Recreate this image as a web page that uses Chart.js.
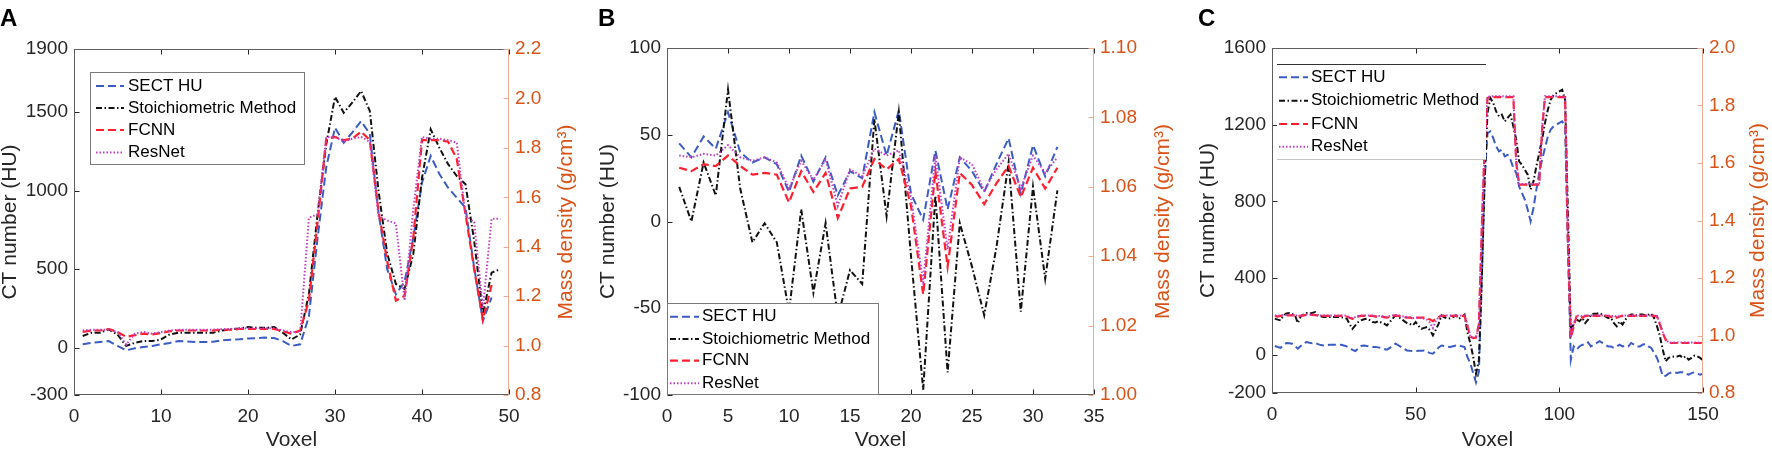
<!DOCTYPE html>
<html>
<head>
<meta charset="utf-8">
<script src="https://cdn.jsdelivr.net/npm/chart.js@4.4.0/dist/chart.umd.min.js"></script>
<style>
  html, body { margin: 0; padding: 0; background: #fff; width: 1772px; height: 450px; overflow: hidden; }
  .panel { position: absolute; top: 0; height: 450px; }
  .tag { position: absolute; top: 4px; line-height: 24px; font: bold 24px "Liberation Sans", Arial, sans-serif; color: #000; }
</style>
</head>
<body>
<div class="panel" style="left:0;width:590px"><canvas id="chartA"></canvas></div>
<div class="panel" style="left:590px;width:590px"><canvas id="chartB"></canvas></div>
<div class="panel" style="left:1180px;width:592px"><canvas id="chartC"></canvas></div>
<div class="tag" style="left:0">A</div>
<div class="tag" style="left:598px">B</div>
<div class="tag" style="left:1198px">C</div>

<script>
/* ---------- data (voxel index starts at 1) ---------- */
const seriesNames = ['SECT HU', 'Stoichiometric Method', 'FCNN', 'ResNet'];

// Panel A
const xTicksA = [0, 10, 20, 30, 40, 50];
const huTicksA = [-300, 0, 500, 1000, 1500, 1900];
const rhoTicksA = [0.8, 1.0, 1.2, 1.4, 1.6, 1.8, 2.0, 2.2];
const sectA = [22, 31, 37, 43, 12, -16, -3, 5, 12, 22, 31, 43, 41, 37, 37, 39, 48, 52, 54, 60,
  62, 65, 62, 43, 12, 22, 200, 700, 1150, 1400, 1304, 1370, 1442, 1360, 860, 500, 340, 420, 700, 1050,
  1220, 1105, 1018, 955, 890, 510, 171, 320, null];
const stoichA = [75, 96, 96, 117, 85, 12, 32, 43, 43, 53, 85, 96, 96, 96, 96, 96, 110, 117, 123, 132,
  127, 127, 132, 96, 53, 85, 342, 850, 1296, 1595, 1495, 1560, 1633, 1506, 1000, 600, 406, 374, 597, 1080,
  1389, 1272, 1168, 1092, 1040, 679, 215, 478, 500];
const fcnnA = [1.055, 1.061, 1.061, 1.067, 1.055, 1.035, 1.042, 1.048, 1.045, 1.051,
  1.058, 1.061, 1.061, 1.061, 1.061, 1.061, 1.064, 1.064, 1.067, 1.067,
  1.067, 1.067, 1.067, 1.058, 1.048, 1.061, 1.182, 1.500, 1.837, 1.844,
  1.831, 1.837, 1.866, 1.831, 1.545, 1.341, 1.182, 1.201, 1.436, 1.831,
  1.831, 1.831, 1.825, 1.755, 1.532, 1.309, 1.105, 1.245, null];
const resnetA = [1.061, 1.064, 1.064, 1.064, 1.055, 1.004, 1.048, 1.055, 1.048, 1.055,
  1.061, 1.064, 1.064, 1.064, 1.064, 1.064, 1.067, 1.067, 1.070, 1.070,
  1.070, 1.070, 1.070, 1.061, 1.055, 1.055, 1.517, 1.532, 1.844, 1.844,
  1.825, 1.837, 1.844, 1.825, 1.525, 1.506, 1.494, 1.182, 1.551, 1.844,
  1.837, 1.837, 1.831, 1.821, 1.525, 1.500, 1.150, 1.513, 1.513];

// Panel B
const xTicksB = [0, 5, 10, 15, 20, 25, 30, 35];
const huTicksB = [-100, -50, 0, 50, 100];
const rhoTicksB = [1.00, 1.02, 1.04, 1.06, 1.08, 1.10];
const sectB = [45, 37, 49, 42, 63, 40, 34, 37, 33, 17, 38, 23, 37, 15, 29, 25, 63, 38, 64, 16,
  1, 41, 7, 37, 29, 17, 33, 48, 16, 44, 26, 43];
const stoichB = [20, 0, 34, 15, 76, 19, -12, -1, -12, -52, 7, -41, -1, -55, -28, -36, 59, 3, 63, -20,
  -97, 15, -87, -1, -26, -54, -15, 34, -52, 20, -33, 18];
const fcnnB = [1.0655, 1.0645, 1.0665, 1.066, 1.069, 1.066, 1.0635, 1.064, 1.0635, 1.0555,
  1.0645, 1.0585, 1.064, 1.051, 1.0595, 1.060, 1.068, 1.065, 1.068, 1.0545,
  1.029, 1.0645, 1.037, 1.064, 1.0605, 1.055, 1.061, 1.066, 1.057, 1.0655, 1.0595, 1.0655];
const resnetB = [1.069, 1.0685, 1.0695, 1.069, 1.072, 1.0685, 1.0675, 1.0685, 1.067, 1.0595,
  1.0675, 1.062, 1.068, 1.0545, 1.065, 1.063, 1.071, 1.069, 1.0705, 1.057,
  1.0325, 1.069, 1.042, 1.0685, 1.0665, 1.059, 1.065, 1.0695, 1.0595, 1.069, 1.064, 1.0685];

// Panel C
const xTicksC = [0, 50, 100, 150];
const huTicksC = [-200, 0, 400, 800, 1200, 1600];
const rhoTicksC = [0.8, 1.0, 1.2, 1.4, 1.6, 1.8, 2.0];
const sectC = [45, 40, 36, 50, 61, 60, 57, 45, 31, 45, 58, 66, 62, 60, 62, 55, 50, 48, 50, 52,
  52, 52, 52, 52, 48, 43, 35, 25, 19, 32, 45, 48, 45, 42, 40, 40, 38, 35, 30, 26,
  35, 48, 57, 48, 40, 30, 22, 20, 19, 19, 20, 21, 22, 15, 8, 5, 20, 38, 48, 45,
  42, 40, 44, 48, 48, 44, 40, -12, -44, -96, -145, -90, 391, 913, 1156, 1165, 1130, 1087, 1061, 1069,
  1035, 1043, 1017, 974, 948, 878, 843, 809, 756, 696, 765, 861, 948, 1017, 1078, 1139, 1174, 1191, 1200, 1209,
  1217, 1191, 565, -26, 43, 26, 43, 52, 52, 64, 43, 52, 61, 70, 61, 52, 43, 43, 35, 43,
  52, 43, 47, 43, 61, 52, 43, 43, 52, 56, 43, 35, 9, -17, -61, -113, -110, -99, -92, -92,
  -96, -92, -92, -99, -104, -96, -92, -99, -104, -99];
const stoichC = [188, 183, 179, 205, 215, 217, 212, 205, 165, 200, 210, 217, 214, 218, 222, 205, 200, 196, 196, 196,
  196, 196, 196, 196, 192, 188, 160, 135, 153, 170, 179, 185, 188, 180, 170, 168, 175, 168, 162, 153,
  170, 188, 205, 195, 188, 175, 165, 160, 153, 170, 150, 135, 140, 144, 127, 101, 130, 162, 205, 195,
  188, 190, 196, 205, 188, 196, 209, 118, 61, -9, -100, -30, 391, 913, 1261, 1339, 1313, 1269, 1243, 1252,
  1217, 1235, 1252, 1191, 1122, 1009, 991, 965, 939, 861, 904, 982, 1052, 1122, 1209, 1278, 1330, 1356, 1365, 1374,
  1382, 1330, 739, 113, 165, 183, 174, 191, 165, 183, 209, 214, 214, 217, 209, 200, 191, 191, 165, 148,
  174, 157, 183, 200, 209, 209, 204, 209, 209, 204, 209, 214, 191, 148, 96, 26, -35, -17, -12, -9,
  -9, -5, -17, -9, -26, -17, -5, -9, -17, -30];
const fcnnC = [1.068, 1.066, 1.068, 1.070, 1.070, 1.070, 1.071, 1.070, 1.066, 1.068,
  1.070, 1.072, 1.072, 1.072, 1.071, 1.070, 1.068, 1.068, 1.068, 1.068,
  1.068, 1.068, 1.068, 1.068, 1.068, 1.066, 1.062, 1.058, 1.062, 1.066,
  1.068, 1.068, 1.068, 1.068, 1.068, 1.066, 1.066, 1.066, 1.064, 1.062,
  1.066, 1.068, 1.070, 1.068, 1.066, 1.064, 1.062, 1.062, 1.060, 1.062,
  1.062, 1.062, 1.062, 1.060, 1.056, 1.050, 1.058, 1.064, 1.068, 1.068,
  1.068, 1.068, 1.068, 1.068, 1.066, 1.068, 1.068, 1.032, 0.997, 0.991,
  0.993, 1.040, 1.368, 1.658, 1.826, 1.829, 1.829, 1.829, 1.829, 1.829,
  1.829, 1.829, 1.829, 1.829, 1.600, 1.525, 1.525, 1.525, 1.525, 1.528,
  1.525, 1.525, 1.525, 1.716, 1.829, 1.829, 1.829, 1.829, 1.829, 1.829,
  1.829, 1.829, 1.310, 0.991, 1.032, 1.066, 1.068, 1.062, 1.068, 1.068,
  1.068, 1.068, 1.068, 1.068, 1.068, 1.068, 1.068, 1.064, 1.068, 1.062,
  1.066, 1.068, 1.068, 1.068, 1.068, 1.068, 1.068, 1.068, 1.068, 1.068,
  1.068, 1.068, 1.068, 1.066, 1.038, 1.009, 0.985, 0.974, 0.974, 0.974,
  0.974, 0.974, 0.974, 0.974, 0.974, 0.974, 0.974, 0.974, 0.974, 0.974];
const resnetC = [1.070, 1.068, 1.070, 1.071, 1.071, 1.071, 1.072, 1.071, 1.068, 1.070,
  1.071, 1.073, 1.073, 1.072, 1.072, 1.071, 1.070, 1.070, 1.070, 1.070,
  1.070, 1.070, 1.070, 1.070, 1.070, 1.068, 1.064, 1.060, 1.064, 1.068,
  1.070, 1.070, 1.070, 1.070, 1.070, 1.068, 1.068, 1.068, 1.066, 1.064,
  1.068, 1.070, 1.071, 1.070, 1.068, 1.066, 1.064, 1.063, 1.060, 1.062,
  1.062, 1.060, 1.058, 1.055, 1.045, 1.026, 1.050, 1.064, 1.070, 1.070,
  1.070, 1.070, 1.070, 1.070, 1.068, 1.070, 1.070, 1.040, 1.000, 0.993,
  0.995, 1.030, 1.380, 1.670, 1.829, 1.832, 1.832, 1.832, 1.832, 1.832,
  1.832, 1.832, 1.832, 1.832, 1.610, 1.527, 1.527, 1.527, 1.527, 1.530,
  1.527, 1.527, 1.530, 1.730, 1.832, 1.832, 1.832, 1.832, 1.832, 1.832,
  1.832, 1.832, 1.330, 0.995, 1.040, 1.068, 1.070, 1.066, 1.070, 1.070,
  1.070, 1.070, 1.070, 1.070, 1.070, 1.070, 1.070, 1.066, 1.070, 1.064,
  1.068, 1.070, 1.070, 1.070, 1.070, 1.070, 1.070, 1.070, 1.070, 1.070,
  1.070, 1.070, 1.070, 1.068, 1.042, 1.012, 0.988, 0.976, 0.976, 0.976,
  0.976, 0.976, 0.976, 0.976, 0.976, 0.976, 0.976, 0.976, 0.976, 0.976];

/* ---------- styling ---------- */
const FONT = '"Liberation Sans", Arial, sans-serif';
const BLUE = '#3b5cc4', BLACK = '#111111', RED = '#ff1f2e', MAGENTA = '#c23ec2';
const ORANGE = '#d95319', ORANGE_LINE = '#eeaa90', AXIS = '#262626';

Chart.defaults.font.family = FONT;
Chart.defaults.font.size = 19;
Chart.defaults.color = AXIS;

function toPoints(arr) {
  return arr.map((v, i) => ({ x: i + 1, y: v }));
}

function buildDatasets(sect, stoich, fcnn, resnet) {
  // lower `order` is painted last (on top)
  return [
    { label: seriesNames[0], data: toPoints(sect), yAxisID: 'y', borderColor: BLUE, borderDash: [8, 4], borderWidth: 2, order: 3 },
    { label: seriesNames[1], data: toPoints(stoich), yAxisID: 'y', borderColor: BLACK, borderDash: [6, 2.5, 1.5, 2.5], borderWidth: 2, order: 2 },
    { label: seriesNames[2], data: toPoints(fcnn), yAxisID: 'y1', borderColor: RED, borderDash: [8, 4], borderWidth: 2.2, order: 1 },
    { label: seriesNames[3], data: toPoints(resnet), yAxisID: 'y1', borderColor: MAGENTA, borderDash: [1.5, 2], borderWidth: 2, order: 0 }
  ].map(d => Object.assign(d, { pointRadius: 0, tension: 0, fill: false, spanGaps: false }));
}

// box, inward ticks, legend and right-axis title (MATLAB look)
const framePlugin = {
  id: 'frame',
  afterDatasetsDraw(chart, args, o) {
    const { ctx, chartArea: a, scales } = chart;
    const L = Math.round(a.left) + 0.5, R = Math.round(a.right) - 0.5;
    const T = Math.round(a.top) + 0.5, B = Math.round(a.bottom) - 0.5;
    ctx.save();
    ctx.setLineDash([]);
    ctx.lineWidth = 1;

    ctx.strokeStyle = AXIS;
    ctx.beginPath();
    scales.x.ticks.forEach(t => {
      const px = Math.round(scales.x.getPixelForValue(t.value)) + 0.5;
      ctx.moveTo(px, B); ctx.lineTo(px, B - 5);
      ctx.moveTo(px, T); ctx.lineTo(px, T + 5);
    });
    scales.y.ticks.forEach(t => {
      const py = Math.round(scales.y.getPixelForValue(t.value)) + 0.5;
      ctx.moveTo(L, py); ctx.lineTo(L + 5, py);
    });
    ctx.stroke();

    ctx.strokeStyle = '#5e5e5e';
    ctx.beginPath();
    ctx.moveTo(R, T); ctx.lineTo(L, T); ctx.lineTo(L, B); ctx.lineTo(R, B);
    ctx.stroke();

    ctx.strokeStyle = ORANGE_LINE;
    ctx.beginPath();
    ctx.moveTo(R, T); ctx.lineTo(R, B);
    scales.y1.ticks.forEach(t => {
      const py = Math.round(scales.y1.getPixelForValue(t.value)) + 0.5;
      ctx.moveTo(R, py); ctx.lineTo(R - 5, py);
    });
    ctx.stroke();

    // legend
    const lg = o.legend;
    ctx.fillStyle = '#fff';
    ctx.fillRect(lg.x, lg.y, lg.w, lg.h);
    if (lg.style === 'box') {
      ctx.strokeStyle = '#7a7a7a';
      ctx.strokeRect(lg.x + 0.5, lg.y + 0.5, lg.w, lg.h);
    } else {
      ctx.strokeStyle = '#333';
      ctx.beginPath(); ctx.moveTo(lg.x, lg.y + 0.5); ctx.lineTo(lg.x + lg.w, lg.y + 0.5); ctx.stroke();
      ctx.strokeStyle = '#c4c4c4';
      ctx.beginPath(); ctx.moveTo(lg.x, lg.y + lg.h + 0.5); ctx.lineTo(lg.x + lg.w, lg.y + lg.h + 0.5); ctx.stroke();
    }
    ctx.font = '17px ' + FONT;
    ctx.textBaseline = 'middle';
    ctx.textAlign = 'left';
    chart.data.datasets.forEach((ds, i) => {
      const y = lg.rows[i];
      ctx.setLineDash(ds.borderDash);
      ctx.strokeStyle = ds.borderColor;
      ctx.lineWidth = ds.borderWidth;
      ctx.beginPath(); ctx.moveTo(lg.lineX0, y); ctx.lineTo(lg.lineX1, y); ctx.stroke();
      ctx.fillStyle = '#000';
      ctx.fillText(ds.label, lg.textX, y);
    });

    // right axis title, reading bottom to top
    ctx.setLineDash([]);
    ctx.translate(o.rightTitleX, (a.top + a.bottom) / 2);
    ctx.rotate(-Math.PI / 2);
    ctx.font = '21px ' + FONT;
    ctx.fillStyle = ORANGE;
    ctx.textAlign = 'center';
    ctx.fillText('Mass density (g/cm³)', 0, 0);
    ctx.restore();
  }
};

function makePanel(canvasId, p) {
  return new Chart(document.getElementById(canvasId), {
    type: 'line',
    data: { datasets: buildDatasets(p.sect, p.stoich, p.fcnn, p.resnet) },
    options: {
      responsive: true,
      maintainAspectRatio: false,
      animation: false,
      layout: { padding: { top: p.padTop, left: 0, right: 0, bottom: 0 } },
      plugins: {
        legend: { display: false },
        tooltip: { enabled: false },
        frame: { legend: p.legend, rightTitleX: p.rightTitleX }
      },
      scales: {
        x: {
          type: 'linear',
          min: p.xTicks[0], max: p.xTicks[p.xTicks.length - 1],
          afterBuildTicks: s => { s.ticks = p.xTicks.map(v => ({ value: v })); },
          afterFit: s => { s.height = p.bottomH; },
          grid: { display: false, drawTicks: false },
          border: { display: false },
          ticks: { autoSkip: false, maxRotation: 0, padding: 10, color: AXIS, font: { size: 19 } },
          title: { display: true, text: 'Voxel', color: AXIS, font: { size: 21, lineHeight: 0.9 }, padding: { top: 0, bottom: 0 } }
        },
        y: {
          type: 'linear', position: 'left',
          min: p.huTicks[0], max: p.huTicks[p.huTicks.length - 1],
          afterBuildTicks: s => { s.ticks = p.huTicks.map(v => ({ value: v })); },
          afterFit: s => { s.width = p.leftW; },
          grid: { display: false, drawTicks: false },
          border: { display: false },
          ticks: { autoSkip: false, padding: 6, color: AXIS, font: { size: 19 }, callback: v => String(v) },
          title: { display: true, text: 'CT number (HU)', color: AXIS, font: { size: 21, lineHeight: 1 }, padding: { top: p.titlePad, bottom: 0 } }
        },
        y1: {
          type: 'linear', position: 'right',
          min: p.rhoTicks[0], max: p.rhoTicks[p.rhoTicks.length - 1],
          afterBuildTicks: s => { s.ticks = p.rhoTicks.map(v => ({ value: v })); },
          afterFit: s => { s.width = p.rightW; },
          grid: { display: false, drawTicks: false },
          border: { display: false },
          ticks: { autoSkip: false, padding: 6, color: ORANGE, font: { size: 19 }, callback: v => Number(v).toFixed(p.rhoDigits) }
        }
      }
    },
    plugins: [framePlugin]
  });
}

makePanel('chartA', {
  sect: sectA, stoich: stoichA, fcnn: fcnnA, resnet: resnetA,
  xTicks: xTicksA, huTicks: huTicksA, rhoTicks: rhoTicksA, rhoDigits: 1,
  padTop: 49, leftW: 74, rightW: 81, bottomH: 55, titlePad: 0, rightTitleX: 566,
  legend: { style: 'box', x: 90, y: 72, w: 214, h: 92, rows: [86, 108, 130, 152.5], lineX0: 96, lineX1: 124, textX: 128 }
});

makePanel('chartB', {
  sect: sectB, stoich: stoichB, fcnn: fcnnB, resnet: resnetB,
  xTicks: xTicksB, huTicks: huTicksB, rhoTicks: rhoTicksB, rhoDigits: 2,
  padTop: 48, leftW: 77, rightW: 86, bottomH: 55, titlePad: 7.5, rightTitleX: 573,
  legend: { style: 'box', x: 77, y: 303, w: 211, h: 91, rows: [316.7, 339, 360.7, 383.3], lineX0: 80, lineX1: 109, textX: 112 }
});

makePanel('chartC', {
  sect: sectC, stoich: stoichC, fcnn: fcnnC, resnet: resnetC,
  xTicks: xTicksC, huTicks: huTicksC, rhoTicks: rhoTicksC, rhoDigits: 1,
  padTop: 48, leftW: 92, rightW: 69, bottomH: 57, titlePad: 17.5, rightTitleX: 578,
  legend: { style: 'lines', x: 97, y: 64, w: 209, h: 95, rows: [77.3, 100.7, 124, 146.7], lineX0: 99, lineX1: 128, textX: 131 }
});
</script>
</body>
</html>
